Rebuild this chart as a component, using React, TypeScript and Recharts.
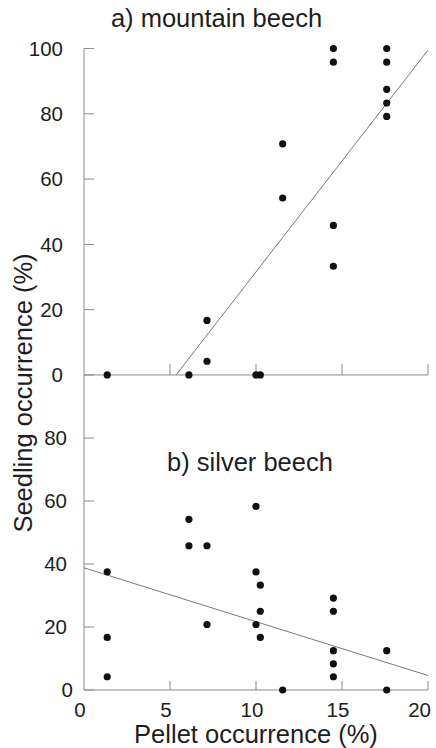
import React from "react";
import {
  ScatterChart,
  Scatter,
  XAxis,
  YAxis,
  ReferenceLine,
  Customized,
} from "recharts";

// pellet occurrence (%) per site
const mountainX = [1.35, 6.1, 7.15, 7.15, 10.0, 10.25, 11.55, 11.55, 14.5, 14.5, 14.5, 14.5, 17.6, 17.6, 17.6, 17.6, 17.6];
const mountainY = [0, 0, 16.7, 4.2, 0, 0, 70.8, 54.2, 100, 95.8, 45.8, 33.3, 100, 95.8, 87.5, 83.3, 79.2];

const silverX = [1.35, 1.35, 1.35, 6.1, 6.1, 7.15, 7.15, 10.0, 10.0, 10.25, 10.25, 10.0, 10.25, 11.55, 14.5, 14.5, 14.5, 14.5, 14.5, 17.6, 17.6];
const silverY = [37.5, 16.7, 4.2, 54.2, 45.8, 45.8, 20.8, 58.3, 37.5, 33.3, 25, 20.8, 16.7, 0, 29.2, 25, 12.5, 8.3, 4.2, 12.5, 0];

// fitted lines, end points
const mountainFit = [
  { x: 5.35, y: 0 },
  { x: 20, y: 99.5 },
];
const silverFit = [
  { x: 0, y: 38.8 },
  { x: 20, y: 4.6 },
];

const xTicks = [0, 5, 10, 15, 20];
const topYTicks = [0, 20, 40, 60, 80, 100];
const bottomYTicks = [0, 20, 40, 60, 80];

const mountainData = mountainX.map((x, i) => ({ x, y: mountainY[i] }));
const silverData = silverX.map((x, i) => ({ x, y: silverY[i] }));

// both panels share one plot area; each panel gets its own y axis whose
// domain runs past the panel so the two stack (a: upper, b: lower)
const domainA = [-96.5, 100];
const domainB = [0, 203.7];
const topTickLen = 3.4; // inward x ticks of panel a, in its y units

const FONT = "'Liberation Sans', Arial, sans-serif";
const AXIS = "#8a8a8a";
const INK = "#1e1e1e";
const AX = 84; // left edge of plot

const Dot = (p: any) => <circle cx={p.cx} cy={p.cy} r={3.6} fill="#111" />;

function makeYTick(labelGap: number, zeroGap: number) {
  return (props: any) => {
    const { y, payload } = props;
    const gap = payload.value === 0 ? zeroGap : labelGap;
    return (
      <g>
        <line x1={AX} y1={y} x2={AX + 10} y2={y} stroke={AXIS} />
        <text
          x={AX - gap}
          y={y}
          dy="0.36em"
          textAnchor="end"
          fontSize={20.5}
          fontFamily={FONT}
          fill={INK}
        >
          {payload.value}
        </text>
      </g>
    );
  };
}

const XTick = (props: any) => {
  const { x, y, payload } = props;
  const last = payload.value === 20;
  return (
    <g>
      {payload.value !== 0 && (
        <line x1={x} y1={y} x2={x} y2={y - 9} stroke={AXIS} />
      )}
      <text
        x={last ? x + 3 : x - 4}
        y={y + 27}
        textAnchor={last ? "end" : "middle"}
        fontSize={20.5}
        fontFamily={FONT}
        fill={INK}
      >
        {payload.value}
      </text>
    </g>
  );
};

const titleStyle = { fontSize: 25.5, fontFamily: FONT, fill: INK } as const;

export default function App() {
  return (
    <div
      style={{
        width: 436,
        height: 748,
        overflow: "hidden",
        background: "#fff",
      }}
    >
      <style>{"html, body { margin: 0; overflow: hidden; }"}</style>
      <ScatterChart
        width={436}
        height={748}
        margin={{ top: 48.5, right: 8, bottom: 0, left: 24 }}
      >
        <XAxis
          type="number"
          dataKey="x"
          domain={[0, 20]}
          ticks={xTicks}
          height={58}
          tickSize={0}
          tickMargin={0}
          tickLine={false}
          axisLine={{ stroke: AXIS }}
          tick={XTick}
          label={{
            value: "Pellet occurrence (%)",
            position: "insideBottom",
            offset: 5,
            style: titleStyle,
          }}
        />
        <YAxis
          yAxisId="b"
          type="number"
          dataKey="y"
          domain={domainB}
          ticks={bottomYTicks}
          width={30}
          tickSize={0}
          tickMargin={0}
          tickLine={false}
          axisLine={false}
          tick={makeYTick(17, 11)}
        />
        <YAxis
          yAxisId="a"
          type="number"
          dataKey="y"
          domain={domainA}
          ticks={topYTicks}
          width={30}
          tickSize={0}
          tickMargin={0}
          tickLine={false}
          axisLine={false}
          tick={makeYTick(21, 21)}
        />

        {/* y axis line over both panels */}
        <ReferenceLine x={0} yAxisId="a" stroke={AXIS} />
        {/* x axis of the upper panel, with its inward ticks */}
        <ReferenceLine y={0} yAxisId="a" stroke={AXIS} />
        {xTicks
          .filter((t) => t > 0)
          .map((t) => (
            <ReferenceLine
              key={t}
              yAxisId="a"
              segment={[
                { x: t, y: 0 },
                { x: t, y: topTickLen },
              ]}
              stroke={AXIS}
            />
          ))}

        <ReferenceLine
          yAxisId="a"
          segment={mountainFit}
          stroke="#6a6a6a"
          strokeWidth={0.9}
          ifOverflow="visible"
        />
        <ReferenceLine
          yAxisId="b"
          segment={silverFit}
          stroke="#6a6a6a"
          strokeWidth={0.9}
          ifOverflow="visible"
        />
        <Scatter
          yAxisId="b"
          data={silverData}
          shape={Dot}
          isAnimationActive={false}
        />
        <Scatter
          yAxisId="a"
          data={mountainData}
          shape={Dot}
          isAnimationActive={false}
        />
        <Customized
          component={() => (
            <g>
              <text x={216.5} y={27} textAnchor="middle" {...titleStyle}>
                a) mountain beech
              </text>
              <text x={250} y={471} textAnchor="middle" {...titleStyle}>
                b) silver beech
              </text>
              <text
                x={0}
                y={0}
                textAnchor="middle"
                transform="translate(32 393) rotate(-90)"
                {...titleStyle}
              >
                Seedling occurrence (%)
              </text>
            </g>
          )}
        />
      </ScatterChart>
    </div>
  );
}
